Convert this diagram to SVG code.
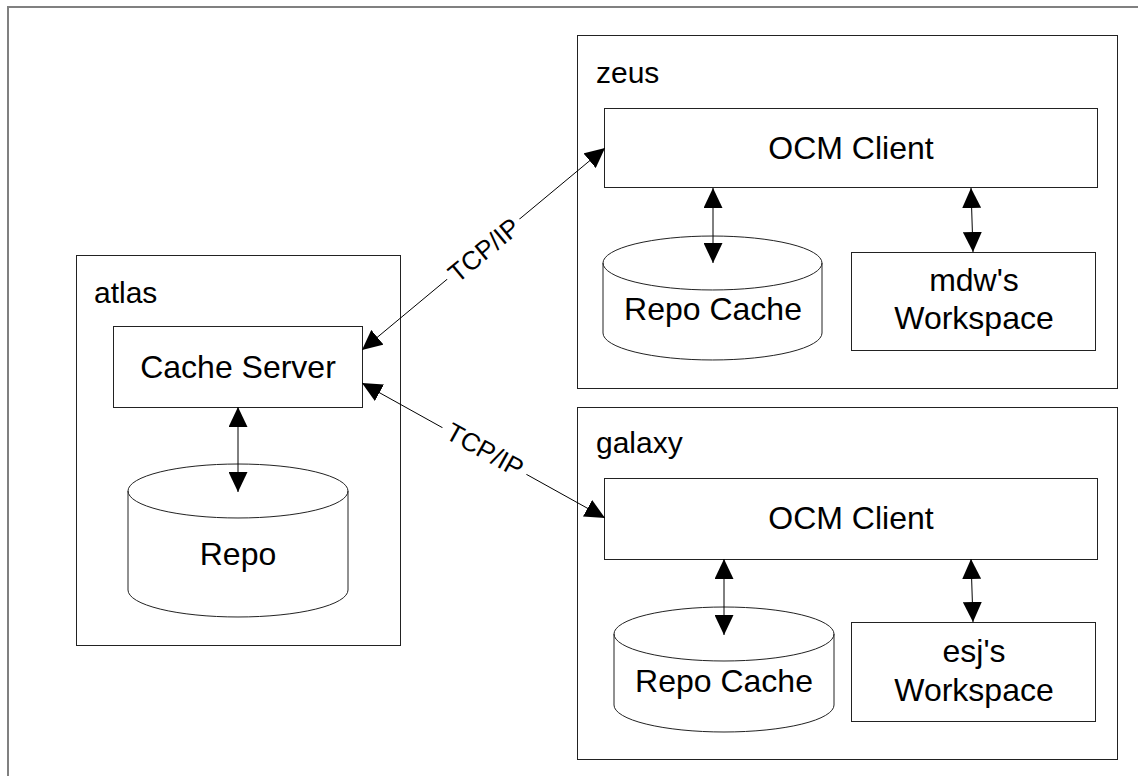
<svg xmlns="http://www.w3.org/2000/svg" width="1138" height="776" viewBox="0 0 1138 776">
<defs>
<style>
.frame{fill:none;stroke:#808080;stroke-width:2}
.box{fill:#fff;stroke:#222;stroke-width:1}
.host{fill:#fff;stroke:#222;stroke-width:1}
.t{font-family:"Liberation Sans",Arial,sans-serif;font-size:32px;fill:#000;text-anchor:middle}
.title{font-family:"Liberation Sans",Arial,sans-serif;font-size:30px;fill:#000}
.lbl{font-family:"Liberation Sans",Arial,sans-serif;font-size:26px;fill:#000;text-anchor:middle}
.conn{stroke:#000;stroke-width:1;fill:none;marker-start:url(#ah);marker-end:url(#ah)}
</style>
<marker id="ah" markerUnits="userSpaceOnUse" markerWidth="20" markerHeight="19" refX="20" refY="9.5" orient="auto-start-reverse" viewBox="0 0 20 19">
<path d="M0,0 L20,9.5 L0,19 z" fill="#000"/>
</marker>
</defs>
<rect width="1138" height="776" fill="#fff"/>
<rect class="frame" x="8" y="7" width="1150" height="800"/>

<g id="atlas">
<rect class="host" x="76.5" y="255.5" width="324" height="390"/>
<text class="title" x="94" y="303">atlas</text>
</g>
<g id="zeus">
<rect class="host" x="577.5" y="35.5" width="540" height="353"/>
<text class="title" x="596" y="83">zeus</text>
</g>
<g id="galaxy">
<rect class="host" x="577.5" y="407.5" width="540" height="352"/>
<text class="title" x="596" y="453">galaxy</text>
</g>

<g id="cache-server">
<rect class="box" x="113.5" y="326.5" width="249" height="81"/>
<text class="t" x="238" y="378">Cache Server</text>
</g>
<g id="repo">
<path class="box" d="M128,491 A110,27 0 0 1 348,491 L348,590 A110,27 0 0 1 128,590 Z M128,491 A110,27 0 0 0 348,491"/>
<text class="t" x="238" y="565">Repo</text>
</g>

<g id="zeus-ocm-client">
<rect class="box" x="604.5" y="108.5" width="493" height="79"/>
<text class="t" x="851" y="159">OCM Client</text>
</g>
<g id="zeus-repo-cache">
<path class="box" d="M603,263 A109.5,27 0 0 1 822,263 L822,333 A109.5,27 0 0 1 603,333 Z M603,263 A109.5,27 0 0 0 822,263"/>
<text class="t" x="713" y="320">Repo Cache</text>
</g>
<g id="mdw-workspace">
<rect class="box" x="851.5" y="252.5" width="244" height="98"/>
<text class="t" x="974" y="291">mdw's</text>
<text class="t" x="974" y="329">Workspace</text>
</g>

<g id="galaxy-ocm-client">
<rect class="box" x="604.5" y="478.5" width="493" height="81"/>
<text class="t" x="851" y="529">OCM Client</text>
</g>
<g id="galaxy-repo-cache">
<path class="box" d="M614,634 A110,27 0 0 1 834,634 L834,705 A110,27 0 0 1 614,705 Z M614,634 A110,27 0 0 0 834,634"/>
<text class="t" x="724" y="692">Repo Cache</text>
</g>
<g id="esj-workspace">
<rect class="box" x="851.5" y="622.5" width="244" height="99"/>
<text class="t" x="974" y="662">esj's</text>
<text class="t" x="974" y="701">Workspace</text>
</g>

<g id="connectors">
<line class="conn" x1="238" y1="407" x2="238" y2="492"/>
<line class="conn" x1="713" y1="188" x2="713" y2="263"/>
<line class="conn" x1="971" y1="188" x2="973" y2="252"/>
<line class="conn" x1="724" y1="559" x2="724" y2="635"/>
<line class="conn" x1="971" y1="559" x2="973" y2="622"/>
<line class="conn" x1="362" y1="350" x2="605" y2="148"/>
<line class="conn" x1="362" y1="383" x2="605" y2="518"/>
<g transform="translate(484,250) rotate(-39.7)">
<rect x="-47" y="-15" width="94" height="30" fill="#fff"/>
<text class="lbl" x="0" y="9">TCP/IP</text>
</g>
<g transform="translate(485,450) rotate(29)">
<rect x="-48" y="-15" width="96" height="30" fill="#fff"/>
<text class="lbl" x="0" y="9">TCP/IP</text>
</g>
</g>
</svg>
